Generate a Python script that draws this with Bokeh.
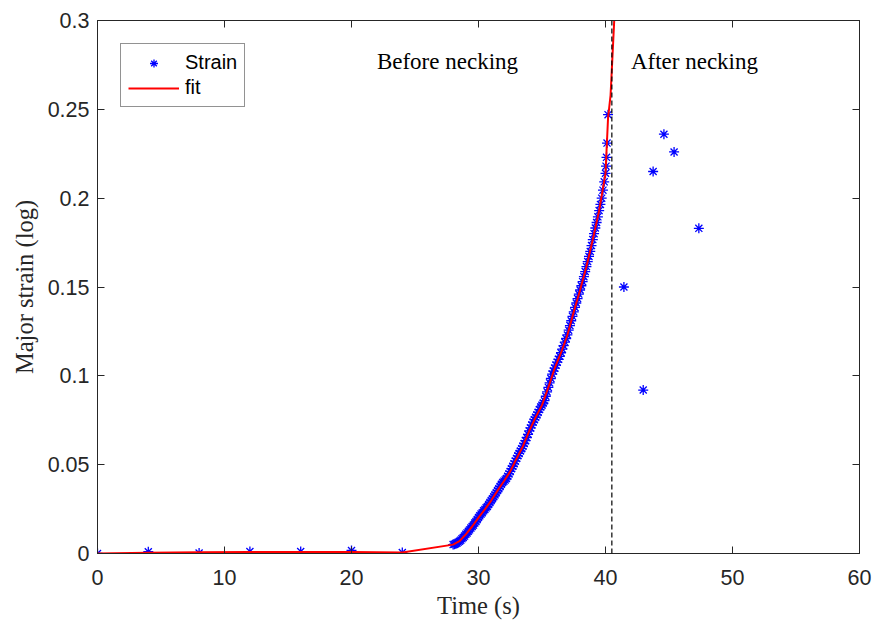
from bokeh.plotting import figure
from bokeh.models import (Range1d, LinearAxis, Span, Legend, LegendItem, FixedTicker)
from bokeh.core.properties import value
from bokeh.embed import file_html
from bokeh.resources import INLINE

# ---------------- data ----------------
early_t = [0, 4, 8, 12, 16, 20, 24]
early_strain = [0.0, 0.0010, 0.0003, 0.0011, 0.0011, 0.0017, 0.0005]

dense_t = [28.0, 28.1, 28.2, 28.3, 28.4, 28.5, 28.6, 28.7, 28.8, 28.9,
           29.0, 29.1, 29.2, 29.3, 29.4, 29.5, 29.6, 29.7, 29.8, 29.9,
           30.0, 30.1, 30.2, 30.3, 30.4, 30.5, 30.6, 30.7, 30.8, 30.9,
           31.0, 31.1, 31.2, 31.3, 31.4, 31.5, 31.6, 31.7, 31.8, 31.9,
           32.0, 32.1, 32.2, 32.3, 32.4, 32.5, 32.6, 32.7, 32.8, 32.9,
           33.0, 33.1, 33.2, 33.3, 33.4, 33.5, 33.6, 33.7, 33.8, 33.9,
           34.0, 34.1, 34.2, 34.3, 34.4, 34.5, 34.6, 34.7, 34.8, 34.9,
           35.0, 35.1, 35.2, 35.3, 35.4, 35.5, 35.6, 35.7, 35.8, 35.9,
           36.0, 36.1, 36.2, 36.3, 36.4, 36.5, 36.6, 36.7, 36.8, 36.9,
           37.0, 37.1, 37.2, 37.3, 37.4, 37.5, 37.6, 37.7, 37.8, 37.9,
           38.0, 38.1, 38.2, 38.3, 38.4, 38.5, 38.6, 38.7, 38.8, 38.9,
           39.0, 39.1, 39.2, 39.3, 39.4, 39.5, 39.6, 39.7, 39.8, 39.9,
           40.0, 40.04, 40.08, 40.12, 40.2]
dense_strain = [0.0050, 0.0052, 0.0055, 0.0058, 0.0064, 0.0069, 0.0075, 0.0083, 0.0090, 0.0098,
                0.0108, 0.0116, 0.0125, 0.0133, 0.0143, 0.0152, 0.0160, 0.0171, 0.0180, 0.0191,
                0.0202, 0.0212, 0.0222, 0.0230, 0.0240, 0.0248, 0.0257, 0.0265, 0.0276, 0.0287,
                0.0298, 0.0308, 0.0320, 0.0330, 0.0342, 0.0354, 0.0365, 0.0377, 0.0390, 0.0400,
                0.0407, 0.0414, 0.0422, 0.0435, 0.0448, 0.0462, 0.0477, 0.0491, 0.0505, 0.0520,
                0.0535, 0.0550, 0.0563, 0.0577, 0.0590, 0.0604, 0.0619, 0.0635, 0.0653, 0.0671,
                0.0690, 0.0707, 0.0723, 0.0740, 0.0753, 0.0767, 0.0780, 0.0795, 0.0810, 0.0825,
                0.0835, 0.0847, 0.0860, 0.0885, 0.0910, 0.0935, 0.0960, 0.0985, 0.1010, 0.1027,
                0.1043, 0.1060, 0.1077, 0.1093, 0.1110, 0.1130, 0.1150, 0.1170, 0.1190, 0.1210,
                0.1230, 0.1257, 0.1283, 0.1310, 0.1335, 0.1360, 0.1385, 0.1410, 0.1435, 0.1460,
                0.1483, 0.1507, 0.1530, 0.1558, 0.1587, 0.1615, 0.1643, 0.1672, 0.1700, 0.1733,
                0.1767, 0.1800, 0.1832, 0.1863, 0.1895, 0.1930, 0.1965, 0.2000, 0.2045, 0.2092,
                0.2140, 0.2180, 0.2230, 0.2310, 0.2470]

after_t = [41.45, 42.97, 43.75, 44.6, 45.4, 47.35]
after_strain = [0.150, 0.092, 0.215, 0.236, 0.226, 0.183]

fit_t = [0, 4, 8, 12, 16, 20, 24, 28.0, 28.5, 29.0, 29.5, 30.0, 30.5, 31.0, 31.5,
         32.0, 32.5, 33.0, 33.5, 34.0, 34.5, 35.0, 35.5, 36.0, 36.5, 37.0, 37.5,
         38.0, 38.5, 39.0, 39.5, 40.0, 40.2, 40.4, 40.7]
fit_strain = [0.0, 0.0004, 0.0007, 0.0009, 0.0009, 0.0008, 0.0006, 0.0050, 0.0069, 0.0108,
              0.0152, 0.0202, 0.0248, 0.0298, 0.0354, 0.0407, 0.0462, 0.0535, 0.0604, 0.0690,
              0.0767, 0.0835, 0.0935, 0.1043, 0.1130, 0.1230, 0.1360, 0.1483, 0.1615, 0.1767,
              0.1930, 0.2140, 0.2450, 0.2580, 0.3020]

necking_time = 40.5

x_ticks = [0, 10, 20, 30, 40, 50, 60]
y_ticks = [0, 0.05, 0.1, 0.15, 0.2, 0.25, 0.3]
y_tick_labels = ["0", "0.05", "0.1", "0.15", "0.2", "0.25", "0.3"]

annot_x = [22, 42]
annot_y = [0.277, 0.277]
annot_text = ["Before necking", "After necking"]

# ---------------- figure ----------------
AX = "#262626"
p = figure(frame_width=762, frame_height=533,
           min_border_left=97, min_border_right=14, min_border_top=20, min_border_bottom=72,
           x_range=Range1d(0, 60), y_range=Range1d(0, 0.3),
           output_backend="svg", toolbar_location=None)
p.background_fill_color = "white"
p.border_fill_color = "white"
p.outline_line_color = AX
p.outline_line_width = 1
p.xgrid.visible = False
p.ygrid.visible = False

def style_axis(ax, labels=True):
    ax.axis_line_color = AX
    ax.axis_line_width = 1
    ax.major_tick_line_color = AX
    ax.major_tick_in = 7
    ax.major_tick_out = 0
    ax.minor_tick_line_color = None
    if labels:
        ax.major_label_text_font = "Liberation Sans"
        ax.major_label_text_font_size = "21.5px"
        ax.major_label_text_color = AX
        ax.axis_label_text_font = "Liberation Serif"
        ax.axis_label_text_font_size = "24.5px"
        ax.axis_label_text_font_style = "normal"
        ax.axis_label_text_color = AX
    else:
        ax.major_label_text_font_size = "1px"
        ax.major_label_text_color = None
        ax.major_label_standoff = 0

xa = p.xaxis[0]
ya = p.yaxis[0]
xa.ticker = FixedTicker(ticks=x_ticks)
ya.ticker = FixedTicker(ticks=y_ticks)
ya.major_label_overrides = dict(zip(y_ticks, y_tick_labels))
style_axis(xa)
style_axis(ya)
xa.axis_label = "Time (s)"
ya.axis_label = "Major strain (log)"
xa.major_label_standoff = 16
xa.axis_label_standoff = 4
ya.major_label_standoff = 8
ya.axis_label_standoff = 7

top = LinearAxis(ticker=FixedTicker(ticks=x_ticks))
right = LinearAxis(ticker=FixedTicker(ticks=y_ticks))
style_axis(top, labels=False)
style_axis(right, labels=False)
p.add_layout(top, "above")
p.add_layout(right, "right")

all_t = early_t + dense_t + after_t
all_s = early_strain + dense_strain + after_strain
sc = p.scatter(all_t, all_s, marker="asterisk", size=10, line_color="#0000ff", line_width=1.3)
ln = p.line(fit_t, fit_strain, line_color="#ff0000", line_width=2)

p.add_layout(Span(location=necking_time, dimension="height", line_color="black",
                  line_dash="5 3", line_width=1.2))

p.text(x=annot_x, y=annot_y, text=annot_text, text_font=value("Liberation Serif"),
       text_font_size="23px", text_align="left", text_baseline="middle", text_color="black")

legend = Legend(items=[LegendItem(label="Strain", renderers=[sc]),
                       LegendItem(label="fit", renderers=[ln])],
                location="top_left")
legend.margin = 23
legend.padding = 7
legend.spacing = 2
legend.glyph_width = 51
legend.glyph_height = 20
legend.label_height = 20
legend.label_standoff = 6
legend.label_text_font = "Liberation Sans"
legend.label_text_font_size = "20px"
legend.label_text_color = "black"
legend.border_line_color = AX
legend.border_line_width = 1
legend.background_fill_alpha = 1
p.add_layout(legend)

open("out.html", "w").write(file_html(p, INLINE))
